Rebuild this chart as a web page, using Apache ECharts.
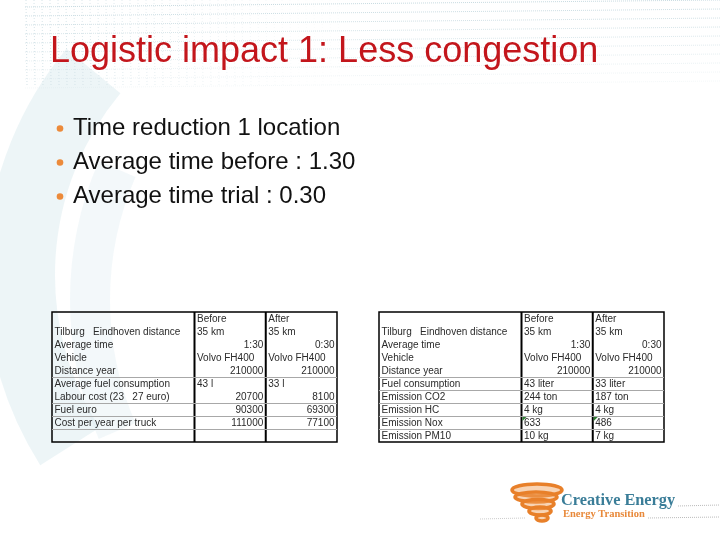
<!DOCTYPE html>
<html>
<head>
<meta charset="utf-8">
<script src="https://cdn.jsdelivr.net/npm/echarts@6.0.0/dist/echarts.min.js"></script>
<style>
html,body{margin:0;padding:0;background:#fff;}
#chart{width:720px;height:540px;}
</style>
</head>
<body>
<div id="chart"></div>
<script>
// ---- Slide texts ----
const titleText = 'Logistic impact 1: Less congestion';
const bullets = ['Time reduction 1 location', 'Average time before : 1.30', 'Average time trial : 0.30'];

// ---- Table 1: costs ----
const table1Labels = ['', 'Tilburg   Eindhoven distance', 'Average time', 'Vehicle', 'Distance year',
  'Average fuel consumption', 'Labour cost (23   27 euro)', 'Fuel euro', 'Cost per year per truck', ''];
const table1Before = ['Before', '35 km', '1:30', 'Volvo FH400', 210000, '43 l', 20700, 90300, 111000, ''];
const table1After  = ['After',  '35 km', '0:30', 'Volvo FH400', 210000, '33 l', 8100, 69300, 77100, ''];
const table1Rules = [5, 7, 8, 9];
const table1Notes = [];

// ---- Table 2: emissions ----
const table2Labels = ['', 'Tilburg   Eindhoven distance', 'Average time', 'Vehicle', 'Distance year',
  'Fuel consumption', 'Emission CO2', 'Emission HC', 'Emission Nox', 'Emission PM10'];
const table2Before = ['Before', '35 km', '1:30', 'Volvo FH400', 210000, '43 liter', '244 ton', '4 kg', '633', '10 kg'];
const table2After  = ['After',  '35 km', '0:30', 'Volvo FH400', 210000, '33 liter', '187 ton', '4 kg', '486', '7 kg'];
const table2Rules = [5, 6, 7, 8, 9];
const table2Notes = [8];

const TFONT = '10px "Liberation Sans", Arial, sans-serif';
const TCOLOR = '#2a2a2a';
const isRight = v => typeof v === 'number' || /^\d+:\d+$/.test(v);

function makeRender(labels, before, after, rules, notes) {
  return function (params, api) {
    const i = api.value(0);
    const children = [];
    const yMid = api.coord([0, i + 0.5])[1] + 0.5;
    const x0 = api.coord([0, 0])[0], x2 = api.coord([2, 0])[0], x3 = api.coord([3, 0])[0], x4 = api.coord([4, 0])[0];
    const top = api.coord([0, 0])[1], bot = api.coord([0, labels.length])[1];
    children.push({type: 'text', style: {text: labels[i], x: x0 + 2.5, y: yMid, font: TFONT, fill: TCOLOR, align: 'left', verticalAlign: 'middle'}});
    [[before[i], x2, x3], [after[i], x3, x4]].forEach(([v, a, b]) => {
      const s = String(v);
      const r = isRight(v);
      children.push({type: 'text', style: {text: s, x: r ? b - 2.5 : a + 2.5, y: yMid, font: TFONT, fill: TCOLOR, align: r ? 'right' : 'left', verticalAlign: 'middle'}});
    });
    if (notes.indexOf(i) >= 0) {
      const yt = api.coord([0, i])[1];
      [x2, x3].forEach(a => children.push({type: 'polygon', shape: {points: [[a + 1, yt + 1], [a + 5, yt + 1], [a + 1, yt + 5]]}, style: {fill: '#2e7d32'}}));
    }
    if (rules.indexOf(i) >= 0) {
      const yl = Math.round(api.coord([0, i])[1]) + 0.5;
      children.push({type: 'line', shape: {x1: x0, y1: yl, x2: x4, y2: yl}, style: {stroke: '#a8a8a8', lineWidth: 1}});
    }
    if (i === 0) {
      children.push({type: 'rect', shape: {x: x0, y: top, width: x4 - x0, height: bot - top}, style: {fill: null, stroke: '#000', lineWidth: 1.5}});
      children.push({type: 'line', shape: {x1: x2, y1: top, x2: x2, y2: bot}, style: {stroke: '#000', lineWidth: 2}});
      children.push({type: 'line', shape: {x1: x3, y1: top, x2: x3, y2: bot}, style: {stroke: '#000', lineWidth: 2}});
    }
    return {type: 'group', children: children};
  };
}

// ---- Decorative background (graph paper & swoosh) ----
const deco = [];
deco.push({type: 'arc', z: -10, shape: {cx: 340, cy: 275, r: 320, startAngle: Math.PI * 0.82, endAngle: Math.PI * 1.22}, style: {stroke: 'rgba(215,232,238,0.45)', lineWidth: 70, fill: null}});
deco.push({type: 'arc', z: -10, shape: {cx: 420, cy: 300, r: 330, startAngle: Math.PI * 0.87, endAngle: Math.PI * 1.13}, style: {stroke: 'rgba(222,236,241,0.35)', lineWidth: 40, fill: null}});
for (let k = 0; k < 10; k++) {
  const y = 4 + k * 9;
  deco.push({type: 'line', z: -9, shape: {x1: 25, y1: y + 3, x2: 720, y2: y - 4}, style: {stroke: '#c8dbe1', lineWidth: 1, lineDash: [1, 1], opacity: Math.max(0.2, 1 - k / 11)}});
}
for (let k = 0; k < 40; k++) {
  const x = 26 + k * 8;
  deco.push({type: 'line', z: -9, shape: {x1: x, y1: 0, x2: x + 1, y2: 85}, style: {stroke: '#ccdde3', lineWidth: 1, lineDash: [1, 2], opacity: Math.max(0.1, 0.85 - k / 45)}});
}

// ---- Text graphics ----
const texts = [];
texts.push({type: 'text', left: 50, top: 34, style: {text: titleText, font: '36px "Liberation Sans", Arial, sans-serif', fill: '#c3161c'}});
bullets.forEach((b, k) => {
  texts.push({type: 'circle', shape: {cx: 60, cy: 128.5 + k * 34, r: 3.3}, style: {fill: '#ec8a3a'}});
  texts.push({type: 'text', left: 73, top: 116 + k * 34, style: {text: b, font: '24px "Liberation Sans", Arial, sans-serif', fill: '#111'}});
});

// ---- Logo ----
const logo = [];
const swirl = [[537, 490, 25, 6], [536, 497, 21, 5], [538, 504, 16, 4.5], [540, 511, 11, 4], [542, 518, 6, 3]];
swirl.forEach(([cx, cy, rx, ry]) => logo.push({type: 'ellipse', shape: {cx: cx, cy: cy, rx: rx, ry: ry}, style: {fill: 'rgba(240,160,90,0.45)', stroke: '#e8802a', lineWidth: 3.6}}));
logo.push({type: 'text', style: {text: 'Creative Energy', x: 561, y: 501, font: 'bold 16.3px "Liberation Serif", serif', fill: '#3a7d98', verticalAlign: 'middle'}});
logo.push({type: 'text', style: {text: 'Energy Transition', x: 563, y: 514, font: 'bold 10.5px "Liberation Serif", serif', fill: '#e8893a', verticalAlign: 'middle'}});
logo.push({type: 'line', shape: {x1: 678, y1: 506, x2: 720, y2: 505}, style: {stroke: '#bbb', lineWidth: 1, lineDash: [1, 1]}});
logo.push({type: 'line', shape: {x1: 648, y1: 518, x2: 720, y2: 517}, style: {stroke: '#bbb', lineWidth: 1, lineDash: [1, 1]}});
logo.push({type: 'line', shape: {x1: 480, y1: 519, x2: 525, y2: 518}, style: {stroke: '#ccc', lineWidth: 1, lineDash: [1, 1]}});

const chart = echarts.init(document.getElementById('chart'), null, {renderer: 'canvas'});
chart.setOption({
  backgroundColor: '#fff',
  animation: false,
  grid: [
    {left: 52, top: 312, width: 285, height: 130},
    {left: 379, top: 312, width: 285, height: 130}
  ],
  xAxis: [
    {type: 'value', gridIndex: 0, min: 0, max: 4, show: false},
    {type: 'value', gridIndex: 1, min: 0, max: 4, show: false}
  ],
  yAxis: [
    {type: 'value', gridIndex: 0, min: 0, max: 10, inverse: true, show: false},
    {type: 'value', gridIndex: 1, min: 0, max: 10, inverse: true, show: false}
  ],
  graphic: deco.concat(texts, logo),
  series: [
    {type: 'custom', xAxisIndex: 0, yAxisIndex: 0, clip: false, silent: true,
      data: table1Labels.map((_, i) => [i]), encode: {x: -1, y: 0},
      renderItem: makeRender(table1Labels, table1Before, table1After, table1Rules, table1Notes)},
    {type: 'custom', xAxisIndex: 1, yAxisIndex: 1, clip: false, silent: true,
      data: table2Labels.map((_, i) => [i]), encode: {x: -1, y: 0},
      renderItem: makeRender(table2Labels, table2Before, table2After, table2Rules, table2Notes)}
  ]
});
</script>
</body>
</html>
